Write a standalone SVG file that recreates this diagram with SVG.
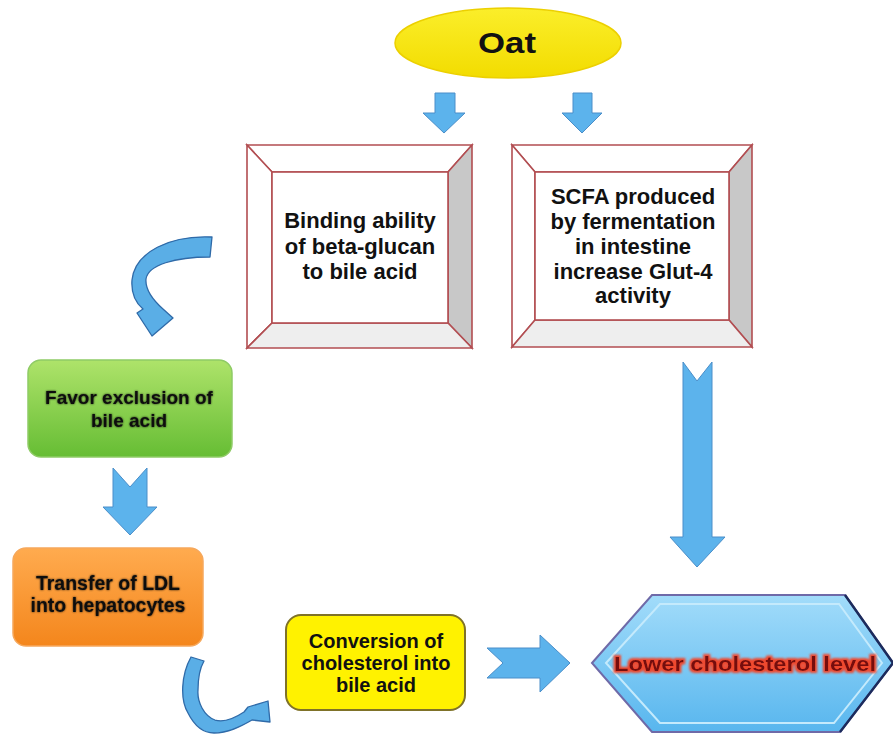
<svg xmlns="http://www.w3.org/2000/svg" width="893" height="734" viewBox="0 0 893 734">
<defs>
  <linearGradient id="gOat" x1="0" y1="0" x2="0" y2="1">
    <stop offset="0" stop-color="#fbee2a"/>
    <stop offset="1" stop-color="#f2dc00"/>
  </linearGradient>
  <linearGradient id="gGreen" x1="0" y1="0" x2="0" y2="1">
    <stop offset="0" stop-color="#aee36a"/>
    <stop offset="1" stop-color="#66bd34"/>
  </linearGradient>
  <linearGradient id="gOrange" x1="0" y1="0" x2="0" y2="1">
    <stop offset="0" stop-color="#ffab4f"/>
    <stop offset="1" stop-color="#f4861c"/>
  </linearGradient>
  <linearGradient id="gHex" x1="0" y1="0" x2="0" y2="1">
    <stop offset="0" stop-color="#a2dcfa"/>
    <stop offset="1" stop-color="#58b6ee"/>
  </linearGradient>
  <filter id="halo" x="-10%" y="-30%" width="120%" height="160%">
    <feGaussianBlur in="SourceAlpha" stdDeviation="1.3" result="b"/>
    <feComponentTransfer in="b" result="b2"><feFuncA type="linear" slope="0.8"/></feComponentTransfer>
    <feMerge><feMergeNode in="b2"/><feMergeNode in="SourceGraphic"/></feMerge>
  </filter>
  <filter id="redhalo" x="-10%" y="-30%" width="120%" height="160%">
    <feMorphology in="SourceAlpha" operator="dilate" radius="1.6" result="d"/>
    <feGaussianBlur in="d" stdDeviation="1.3" result="b"/>
    <feFlood flood-color="#f0482e"/>
    <feComposite operator="in" in2="b" result="c"/>
    <feMerge><feMergeNode in="c"/><feMergeNode in="SourceGraphic"/></feMerge>
  </filter>
</defs>
<style>
  .t { font-family: "Liberation Sans", Arial, sans-serif; font-weight: bold; text-anchor: middle; fill: #111; }
  .bev { stroke: #b24e52; stroke-width: 1.6; stroke-linejoin: miter; }
  .arr { fill: #5cb3ec; stroke: #4a8ec9; stroke-width: 1; stroke-linejoin: round; }
  .carr { fill: #5aaee6; stroke: #2f6aa8; stroke-width: 1.3; stroke-linejoin: round; }
</style>

<g id="oat">
  <ellipse cx="508" cy="43" rx="113" ry="35" fill="url(#gOat)" stroke="#ecd000" stroke-width="1.5"/>
  <text class="t" x="507" y="53" font-size="30" textLength="58" lengthAdjust="spacingAndGlyphs">Oat</text>
</g>

<g id="binding">
  <polygon points="247,145 472,145 448,172 272,172" fill="#ffffff" class="bev"/>
  <polygon points="247,145 272,172 272,323 247,348" fill="#ffffff" class="bev"/>
  <polygon points="472,145 472,348 448,323 448,172" fill="#c8c8c8" class="bev"/>
  <polygon points="247,348 272,323 448,323 472,348" fill="#eeeeee" class="bev"/>
  <rect x="272" y="172" width="176" height="151" fill="#ffffff" class="bev"/>
  <text class="t" x="360" y="228" font-size="22">Binding ability</text>
  <text class="t" x="360" y="254" font-size="22">of beta-glucan</text>
  <text class="t" x="360" y="279" font-size="22">to bile acid</text>
</g>

<g id="scfa">
  <polygon points="512,145 752,145 729,172 535,172" fill="#ffffff" class="bev"/>
  <polygon points="512,145 535,172 535,320 512,347" fill="#ffffff" class="bev"/>
  <polygon points="752,145 752,347 729,320 729,172" fill="#c8c8c8" class="bev"/>
  <polygon points="512,347 535,320 729,320 752,347" fill="#eeeeee" class="bev"/>
  <rect x="535" y="172" width="194" height="148" fill="#ffffff" class="bev"/>
  <text class="t" x="633" y="204" font-size="22">SCFA produced</text>
  <text class="t" x="633" y="229" font-size="22">by fermentation</text>
  <text class="t" x="633" y="254" font-size="22">in intestine</text>
  <text class="t" x="633" y="279" font-size="22">increase Glut-4</text>
  <text class="t" x="633" y="303" font-size="22">activity</text>
</g>

<g id="favor">
  <rect x="28" y="360" width="204" height="97" rx="13" fill="url(#gGreen)" stroke="#8fcb66" stroke-width="1.5"/>
  <text class="t" x="129" y="404" font-size="19" filter="url(#halo)">Favor exclusion of</text>
  <text class="t" x="129" y="427" font-size="19" filter="url(#halo)">bile acid</text>
</g>

<g id="transfer">
  <rect x="13" y="548" width="190" height="98" rx="13" fill="url(#gOrange)" stroke="#f6a85c" stroke-width="1.5"/>
  <text class="t" x="108" y="590" font-size="19.5" filter="url(#halo)">Transfer of LDL</text>
  <text class="t" x="108" y="612" font-size="19.5" filter="url(#halo)">into hepatocytes</text>
</g>

<g id="conversion">
  <rect x="286" y="615" width="179" height="95" rx="15" fill="#fff200" stroke="#7f7228" stroke-width="2"/>
  <text class="t" x="376" y="648" font-size="20">Conversion of</text>
  <text class="t" x="376" y="670" font-size="20">cholesterol into</text>
  <text class="t" x="376" y="692" font-size="20">bile acid</text>
</g>

<g id="lower">
  <polygon points="592,663 652,595 845,595 893,663 840,732 652,732" fill="url(#gHex)" stroke="#6f6aa8" stroke-width="2"/>
  <polyline points="845,595 893,663 840,732" fill="none" stroke="#1c2b5c" stroke-width="2.5"/>
  <polygon points="606,663 660,604 839,604 882,663 834,723 660,723" fill="none" stroke="#c4eafc" stroke-width="2"/>
  <text x="745" y="671" font-family="Liberation Sans, Arial, sans-serif" font-weight="bold" font-size="21" text-anchor="middle" fill="#760a0e" textLength="262" lengthAdjust="spacingAndGlyphs" filter="url(#redhalo)">Lower cholesterol level</text>
</g>

<g id="connectors">
  <polygon class="arr" points="435,93 455,93 455,113 465,113 444,133 423,113 435,113"/>
  <polygon class="arr" points="573,93 592,93 592,113 602,113 582,133 562,113 573,113"/>
  <polygon class="arr" points="113,468 130,487 147,468 147,507 157,507 130,535 103,507 113,507"/>
  <polygon class="arr" points="683,362 697,381 712,362 712,537 725,537 697,567 670,537 683,537"/>
  <polygon class="arr" points="487,648 540,648 540,635 570,663 540,692 540,678 487,678 503,663"/>
  <path class="carr" d="M 212 237 C 170 235 135 252 132 280 C 131 293 136 303 143 309 L 137 313 L 152 336 L 173 318 L 163 309 C 153 300 145 290 146 279 C 148 265 175 257 210 257 Z"/>
  <path class="carr" d="M 191 657 C 181 675 180 700 188 713 C 194 725 203 733 214 733 C 228 733 240 727 252 720 L 270 722 L 268 701 L 248 707 L 244 712 C 232 720 222 722 215 720 C 204 716 197 702 198 690 C 198 678 200 668 204 661 Z"/>
</g>
</svg>
